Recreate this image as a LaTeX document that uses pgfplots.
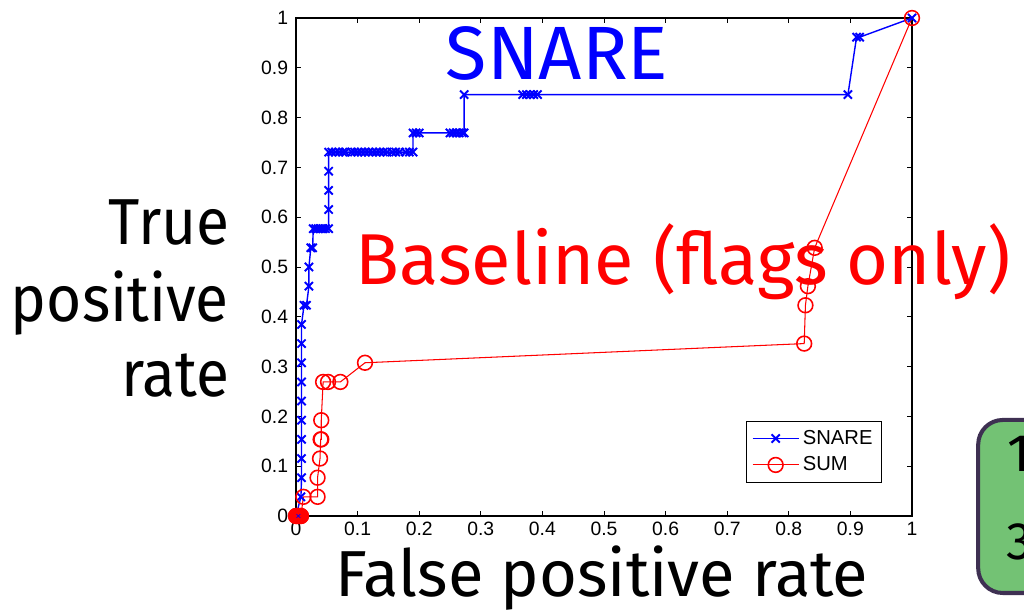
\documentclass[border=0pt]{standalone}
\usepackage{fontspec}
\setmainfont{Fira Sans}
\newfontfamily\arial{Liberation Sans}
\usepackage{pgfplots}
\pgfplotsset{compat=1.18}
\definecolor{boxgreen}{RGB}{115,194,116}
\definecolor{boxedge}{RGB}{62,48,82}

\begin{document}
\begin{tikzpicture}
\useasboundingbox (0,0) rectangle (20.48cm,12.24cm);
\begin{axis}[
    at={(5.92cm,1.92cm)}, anchor=south west,
    scale only axis, width=12.32cm, height=9.96cm,
    xmin=0, xmax=1, ymin=0, ymax=1,
    xtick={0,0.1,0.2,0.3,0.4,0.5,0.6,0.7,0.8,0.9,1},
    ytick={0,0.1,0.2,0.3,0.4,0.5,0.6,0.7,0.8,0.9,1},
    /pgf/number format/assume math mode=true,
    /pgf/number format/fixed,
    ticklabel style={font=\arial\fontsize{11}{13}\selectfont},
    yticklabel style={xshift=-1pt},
    tick align=inside, major tick length=0.1cm,
    tick style={black, line width=0.5pt},
    axis line style={line width=0.8pt},
    clip=false,
    legend style={at={(0.951,0.067)}, anchor=south east, draw=black,
        line width=0.6pt, font=\arial\fontsize{11.5}{14}\selectfont,
        row sep=1.5pt, inner sep=3pt},
    legend cell align=left,
    legend image code/.code={
        \draw[mark repeat=2,mark phase=2] plot coordinates {(0cm,0cm) (0.46cm,0cm) (0.92cm,0cm)};},
]
\addplot[blue, line width=0.8pt, mark=x, mark size=3.3pt, mark options={line width=1.1pt}]
coordinates {
(0,0) (0.008,0.0385) (0.009,0.0769) (0.009,0.1154) (0.009,0.1538) (0.009,0.1923)
(0.009,0.2308) (0.009,0.2692) (0.009,0.3077) (0.009,0.3462) (0.009,0.3846)
(0.013,0.4231) (0.017,0.4231) (0.021,0.4615) (0.021,0.5) (0.024,0.5385) (0.027,0.5385)
(0.028,0.5769) (0.032,0.5769) (0.036,0.5769) (0.040,0.5769) (0.044,0.5769) (0.048,0.5769) (0.053,0.5769)
(0.053,0.6154) (0.053,0.6538) (0.053,0.6923) (0.053,0.7308)
(0.058,0.7308) (0.064,0.7308) (0.070,0.7308) (0.076,0.7308) (0.080,0.7308) (0.090,0.7308)
(0.095,0.7308) (0.100,0.7308) (0.106,0.7308) (0.112,0.7308) (0.118,0.7308) (0.124,0.7308)
(0.130,0.7308) (0.136,0.7308) (0.142,0.7308) (0.148,0.7308) (0.156,0.7308) (0.162,0.7308)
(0.168,0.7308) (0.178,0.7308) (0.184,0.7308) (0.190,0.7308)
(0.190,0.7692) (0.195,0.7692) (0.200,0.7692) (0.250,0.7692) (0.255,0.7692) (0.260,0.7692)
(0.265,0.7692) (0.270,0.7692) (0.273,0.7692)
(0.273,0.8462) (0.368,0.8462) (0.374,0.8462) (0.380,0.8462) (0.386,0.8462) (0.392,0.8462)
(0.896,0.8462) (0.910,0.9615) (0.915,0.9615) (1,1)
};
\addlegendentry{SNARE}
\addplot[red, line width=0.6pt, mark=o, mark size=4.2pt, mark options={line width=0.9pt}]
coordinates {
(0,0) (0.002,0) (0.004,0) (0.006,0) (0.008,0) (0.012,0.0385) (0.035,0.0385)
(0.035,0.0769) (0.039,0.1154) (0.040,0.1538) (0.041,0.1538) (0.041,0.1923)
(0.044,0.2692) (0.052,0.2692) (0.072,0.2692) (0.112,0.3077)
(0.825,0.3462) (0.827,0.4231) (0.831,0.4615) (0.842,0.5385) (1,1)
};
\addlegendentry{SUM}
\addplot[forget plot, only marks, red, mark=*, mark size=4.4pt]
coordinates {(0.000,0) (0.008,0)};
\addplot[forget plot, only marks, blue, mark=x, mark size=1.5pt]
coordinates {(0.004,0)};
\end{axis}
\begin{scope}[x=0.02cm,y=0.02cm]
% annotations
\node[blue, anchor=base, font=\fontsize{43}{48}\selectfont, inner sep=0pt] at (557,532) {SNARE};
\node[red, anchor=base, font=\fontsize{41}{46}\selectfont, inner sep=0pt] at (683,327) {Baseline (flags only)};
\node[anchor=base east, font=\fontsize{37}{42}\selectfont, inner sep=0pt] at (230,367) {\scalebox{0.93}[1]{True}};
\node[anchor=base east, font=\fontsize{37}{42}\selectfont, inner sep=0pt] at (229,290) {\scalebox{0.93}[1]{positive}};
\node[anchor=base east, font=\fontsize{37}{42}\selectfont, inner sep=0pt] at (230,215) {\scalebox{0.93}[1]{rate}};
\node[anchor=base, font=\fontsize{37}{42}\selectfont, inner sep=0pt] at (602,15) {False positive rate};
\clip (0,0) rectangle (1024,612);
\draw[boxedge, line width=2.3pt, fill=boxgreen, rounded corners=14] (978,19) rectangle (1100,192);
\node[anchor=base west, font=\fontsize{30}{34}\selectfont, inner sep=0pt] at (1007,140) {1};
\node[anchor=base west, font=\fontsize{30}{34}\selectfont, inner sep=0pt] at (1006,52) {3};
\end{scope}
\end{tikzpicture}
\end{document}
